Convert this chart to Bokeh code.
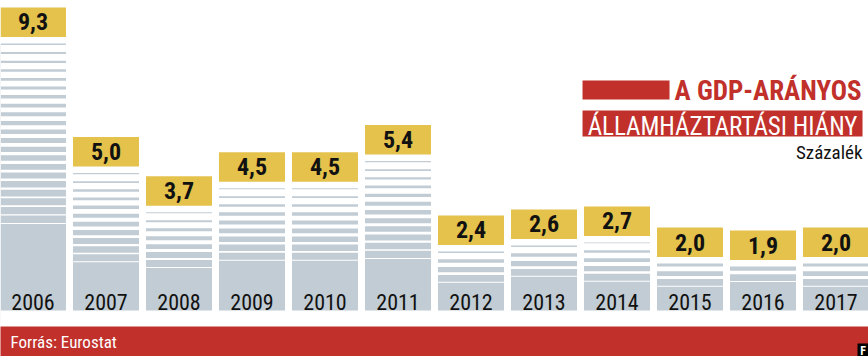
from bokeh.plotting import figure
from bokeh.models import FactorRange, Range1d, ColumnDataSource
from bokeh.embed import file_html
from bokeh.resources import INLINE
from bokeh.core.properties import value

# ---- data ----
years = ["2006", "2007", "2008", "2009", "2010", "2011",
         "2012", "2013", "2014", "2015", "2016", "2017"]
deficit = [9.3, 5.0, 3.7, 4.5, 4.5, 5.4, 2.4, 2.6, 2.7, 2.0, 1.9, 2.0]
value_labels = ["9,3", "5,0", "3,7", "4,5", "4,5", "5,4",
                "2,4", "2,6", "2,7", "2,0", "1,9", "2,0"]
title_line1 = "A GDP-ARÁNYOS"
title_line2 = "ÁLLAMHÁZTARTÁSI HIÁNY"
unit_text = "Százalék"
source_text = "Forrás: Eurostat"

# ---- style ----
RED = "#c1302b"
YELLOW = "#e4c24c"
GRAY = "#c1ccd4"
INK = "#111111"
FONT = value("Roboto Condensed, DejaVu Sans Condensed, Liberation Sans Narrow, Roboto, sans-serif")

W, H = 868, 356
PX = 30.14          # pixels per percentage point
ZERO = 323.3        # pixel row of value 0
Y0, Y1 = (ZERO - H) / PX, ZERO / PX
PAD = -0.055

def ry(py):
    return (ZERO - py) / PX

def rx(px):
    return -PAD + px / 73.0

p = figure(width=W, height=H, output_backend="svg", toolbar_location=None,
           x_range=FactorRange(factors=years, range_padding=PAD,
                               range_padding_units="absolute"),
           y_range=Range1d(Y0, Y1),
           x_axis_location=None, y_axis_location=None,
           min_border=0, outline_line_color=None)
p.xgrid.visible = False
p.ygrid.visible = False
p.background_fill_color = "white"
p.border_fill_color = "white"

BAR_W = 0.904
src = ColumnDataSource(dict(year=years, v=deficit, lab=value_labels,
                            bb=[v + 6.5 / PX for v in deficit],
                            bt=[v + 36 / PX for v in deficit],
                            bm=[v + 21.5 / PX for v in deficit]))

p.vbar(x="year", top="v", bottom=0, width=BAR_W, source=src,
       fill_color=GRAY, line_color=None)

# stripes (white gaps) derived from each bar's value
sx, stop, sbot = [], [], []
for yr, v in zip(years, deficit):
    h = (v - ry(310)) * PX
    zone = 0.74 * h - 14
    pitch = 7.6 + 1.0 * min(1.0, h / 267.0)
    n = max(2, int(round(zone / pitch)))
    w0 = min(7.0, 1.0 + 1.3 * n)
    for k in range(n):
        w = w0 - (w0 - 1.0) * k / (n - 1)
        g = pitch - w
        t = v - (k * pitch + g) / PX
        b = v - (k + 1) * pitch / PX
        sx.append(yr); stop.append(t); sbot.append(b)
p.vbar(x=sx, top=stop, bottom=sbot, width=BAR_W, fill_color="white",
       line_color=None)

# white band below bars and footer
p.quad(left=[rx(-20)], right=[rx(900)], top=[ry(310)], bottom=[ry(326)],
       fill_color="white", line_color=None)
p.quad(left=[rx(-20)], right=[rx(900)], top=[ry(326)], bottom=[Y0 - 1],
       fill_color=RED, line_color=None)

# value label boxes
p.vbar(x="year", top="bt", bottom="bb", width=BAR_W, source=src,
       fill_color=YELLOW, line_color=None)
p.text(x="year", y="bm", text="lab", source=src, text_align="center",
       text_baseline="middle", text_font=FONT, text_font_size="24px",
       text_font_style="bold", text_color=INK)

# year labels
p.text(x="year", y=ry(301), text="year", source=src, text_align="center",
       text_baseline="middle", text_font=FONT, text_font_size="22px",
       text_color=INK)

# title block
p.quad(left=[rx(582)], right=[rx(669)], top=[ry(80)], bottom=[ry(99)],
       fill_color=RED, line_color=None)
p.text(x=[rx(861)], y=[ry(90)], text=[title_line1], text_align="right",
       text_baseline="middle", text_font=FONT, text_font_size="27px",
       text_font_style="bold", text_color=RED)
p.quad(left=[rx(582)], right=[rx(862)], top=[ry(110)], bottom=[ry(136)],
       fill_color=RED, line_color=None)
p.text(x=[rx(722)], y=[ry(126)], text=[title_line2], text_align="center",
       text_baseline="middle", text_font=FONT, text_font_size="25px",
       text_color="white")
p.text(x=[rx(862)], y=[ry(152)], text=[unit_text], text_align="right",
       text_baseline="middle", text_font=FONT, text_font_size="19px",
       text_color=INK)

# footer
p.text(x=[rx(10)], y=[ry(341.5)], text=[source_text], text_align="left",
       text_baseline="middle", text_font=FONT, text_font_size="17px",
       text_color="white")
p.quad(left=[rx(857)], right=[rx(890)], top=[ry(343)], bottom=[Y0 - 1],
       fill_color="black", line_color=None)
p.text(x=[rx(862.5)], y=[ry(350)], text=["F"], text_align="center",
       text_baseline="middle", text_font=FONT, text_font_size="12px",
       text_font_style="bold", text_color="white")

open("out.html", "w").write(file_html(p, INLINE))
